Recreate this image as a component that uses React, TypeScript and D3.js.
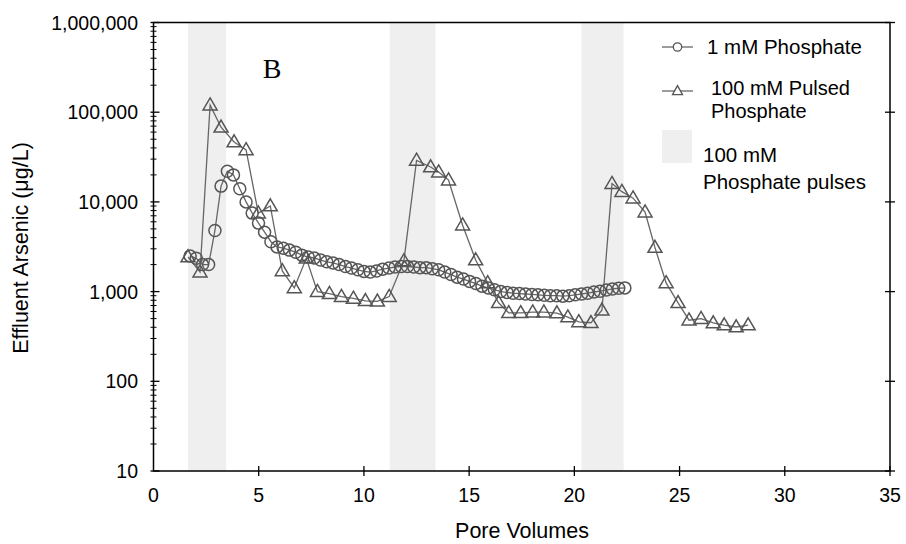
import React from "react";
import * as d3 from "d3";

// 1 mM Phosphate (circles): pore volumes and effluent arsenic (µg/L)
const circlePV = [1.74, 2.03, 2.33, 2.62, 2.92, 3.21, 3.51, 3.8, 4.1, 4.4, 4.69, 4.99, 5.28, 5.58, 5.87, 6.17, 6.46, 6.76, 7.05, 7.35, 7.64, 7.94, 8.23, 8.53, 8.82, 9.12, 9.41, 9.71, 10.0, 10.3, 10.6, 10.89, 11.19, 11.48, 11.78, 12.07, 12.37, 12.66, 12.96, 13.25, 13.55, 13.84, 14.14, 14.43, 14.73, 15.02, 15.32, 15.61, 15.91, 16.2, 16.5, 16.8, 17.09, 17.39, 17.68, 17.98, 18.27, 18.57, 18.86, 19.16, 19.45, 19.75, 20.04, 20.34, 20.63, 20.93, 21.22, 21.52, 21.81, 22.11, 22.4];
const circleAs = [2500, 2350, 2000, 2000, 4800, 15000, 22000, 20000, 14000, 10000, 7500, 5800, 4600, 3600, 3150, 3050, 2900, 2750, 2550, 2430, 2370, 2250, 2150, 2090, 2000, 1900, 1830, 1750, 1680, 1650, 1700, 1780, 1830, 1880, 1900, 1900, 1880, 1850, 1850, 1800, 1750, 1650, 1550, 1450, 1380, 1300, 1230, 1150, 1100, 1050, 1000, 980, 960, 950, 940, 930, 920, 910, 900, 900, 890, 900, 920, 940, 960, 990, 1010, 1040, 1070, 1090, 1100];

// 100 mM Pulsed Phosphate (triangles)
const trianglePV = [1.64, 2.21, 2.69, 3.21, 3.83, 4.4, 4.98, 5.55, 6.12, 6.69, 7.26, 7.79, 8.36, 8.93, 9.5, 10.07, 10.64, 11.2, 11.9, 12.5, 13.17, 13.55, 14.02, 14.69, 15.31, 15.88, 16.4, 16.88, 17.45, 18.02, 18.55, 19.17, 19.69, 20.21, 20.79, 21.31, 21.79, 22.26, 22.79, 23.36, 23.83, 24.36, 24.93, 25.45, 26.02, 26.6, 27.12, 27.69, 28.26];
const triangleAs = [2430, 1650, 120000, 68000, 46500, 38000, 7500, 9000, 1700, 1100, 2350, 1000, 950, 880, 840, 790, 780, 880, 2200, 29000, 24500, 21500, 17500, 5500, 2250, 1250, 750, 580, 580, 590, 590, 577, 520, 460, 450, 620, 16000, 13000, 11000, 7700, 3100, 1250, 750, 480, 500, 447, 424, 403, 424];

// 100 mM phosphate pulse intervals (pore volumes)
const pulseStart = [1.64, 11.23, 20.34];
const pulseEnd = [3.45, 13.4, 22.34];

const xTicks = [0, 5, 10, 15, 20, 25, 30, 35];
const yTicks = [10, 100, 1000, 10000, 100000, 1000000];

const W = 906;
const H = 544;
const L = 153.5, R = 890, T = 22.5, B = 471;

export default function App() {
  const x = d3.scaleLinear().domain([0, 35]).range([L, R]);
  const y = d3.scaleLog().domain([10, 1e6]).range([B, T]);
  const fmt = d3.format(",");
  const line = d3
    .line<[number, number]>()
    .x((d) => x(d[0]))
    .y((d) => y(d[1]));
  const circles: [number, number][] = circlePV.map((p, i) => [p, circleAs[i]]);
  const tris: [number, number][] = trianglePV.map((p, i) => [p, triangleAs[i]]);
  const minor: number[] = [];
  for (let e = 1; e < 6; e++) {
    for (let k = 2; k <= 9; k++) minor.push(k * Math.pow(10, e));
  }
  const lineColor = "#666";
  const markColor = "#555";
  const tri = (cx: number, cy: number, w: number, h: number) =>
    `M${cx},${cy - h * 0.6}L${cx + w / 2},${cy + h * 0.4}L${cx - w / 2},${cy + h * 0.4}Z`;
  const font = "Liberation Sans, Arial, sans-serif";

  return (
    <svg
      width={W}
      height={H}
      style={{ position: "absolute", left: 0, top: 0, background: "#fff" }}
      fontFamily={font}
    >
      <rect x={0} y={0} width={W} height={H} fill="#fff" />
      {pulseStart.map((s, i) => (
        <rect
          key={"p" + i}
          x={x(s)}
          y={T}
          width={x(pulseEnd[i]) - x(s)}
          height={B - T}
          fill="#efefef"
        />
      ))}
      {/* series lines */}
      <path d={line(circles) || ""} fill="none" stroke={lineColor} strokeWidth={1.3} />
      <path d={line(tris) || ""} fill="none" stroke={lineColor} strokeWidth={1.3} />
      {circles.map((d, i) => (
        <circle
          key={"c" + i}
          cx={x(d[0])}
          cy={y(d[1])}
          r={6}
          fill="none"
          stroke={markColor}
          strokeWidth={1.5}
        />
      ))}
      {tris.map((d, i) => (
        <path
          key={"t" + i}
          d={tri(x(d[0]), y(d[1]), 14, 12)}
          fill="none"
          stroke={markColor}
          strokeWidth={1.5}
        />
      ))}
      {/* frame */}
      <rect x={L} y={T} width={R - L} height={B - T} fill="none" stroke="#000" strokeWidth={1.5} />
      {/* y ticks */}
      {yTicks.map((t) => (
        <g key={"y" + t}>
          <line x1={L - 3} x2={L + 6} y1={y(t)} y2={y(t)} stroke="#000" strokeWidth={1.3} />
          <line x1={R - 5} x2={R + 5} y1={y(t)} y2={y(t)} stroke="#000" strokeWidth={1.3} />
          <text x={138} y={y(t) + 7} textAnchor="end" fontSize={19.5} fill="#000">
            {fmt(t)}
          </text>
        </g>
      ))}
      {minor.map((t) => (
        <line key={"m" + t} x1={L - 3} x2={L + 3} y1={y(t)} y2={y(t)} stroke="#000" strokeWidth={1} />
      ))}
      {/* x ticks */}
      {xTicks.map((t) => (
        <g key={"x" + t}>
          {t > 0 && (
            <line x1={x(t)} x2={x(t)} y1={B - 5} y2={B + 5} stroke="#000" strokeWidth={1.3} />
          )}
          <text x={x(t)} y={502} textAnchor="middle" fontSize={19.5} fill="#000">
            {t}
          </text>
        </g>
      ))}
      <text x={522} y={538} textAnchor="middle" fontSize={21.5} fill="#000">
        Pore Volumes
      </text>
      <text
        transform={`translate(28,248) rotate(-90)`}
        textAnchor="middle"
        fontSize={21.5}
        fill="#000"
      >
        Effluent Arsenic (μg/L)
      </text>
      <text x={272} y={78} textAnchor="middle" fontSize={28} fontFamily="Liberation Serif, Times New Roman, serif" fill="#000">
        B
      </text>
      {/* legend */}
      <line x1={662} x2={693} y1={47} y2={47} stroke={lineColor} strokeWidth={1.3} />
      <circle cx={677.5} cy={47} r={4.2} fill="#fff" stroke={markColor} strokeWidth={1.3} />
      <text x={707} y={54} fontSize={20.5} fill="#000">1 mM Phosphate</text>
      <line x1={662} x2={693} y1={91} y2={91} stroke={lineColor} strokeWidth={1.3} />
      <path d={tri(677.5, 91, 10, 9)} fill="#fff" stroke={markColor} strokeWidth={1.3} />
      <text x={711} y={95} fontSize={20} fill="#000">100 mM Pulsed</text>
      <text x={711} y={118} fontSize={20} fill="#000">Phosphate</text>
      <rect x={662} y={130} width={30} height={33} fill="#efefef" />
      <text x={703} y={162} fontSize={20.5} fill="#000">100 mM</text>
      <text x={703} y={189} fontSize={20.5} fill="#000">Phosphate pulses</text>
    </svg>
  );
}
